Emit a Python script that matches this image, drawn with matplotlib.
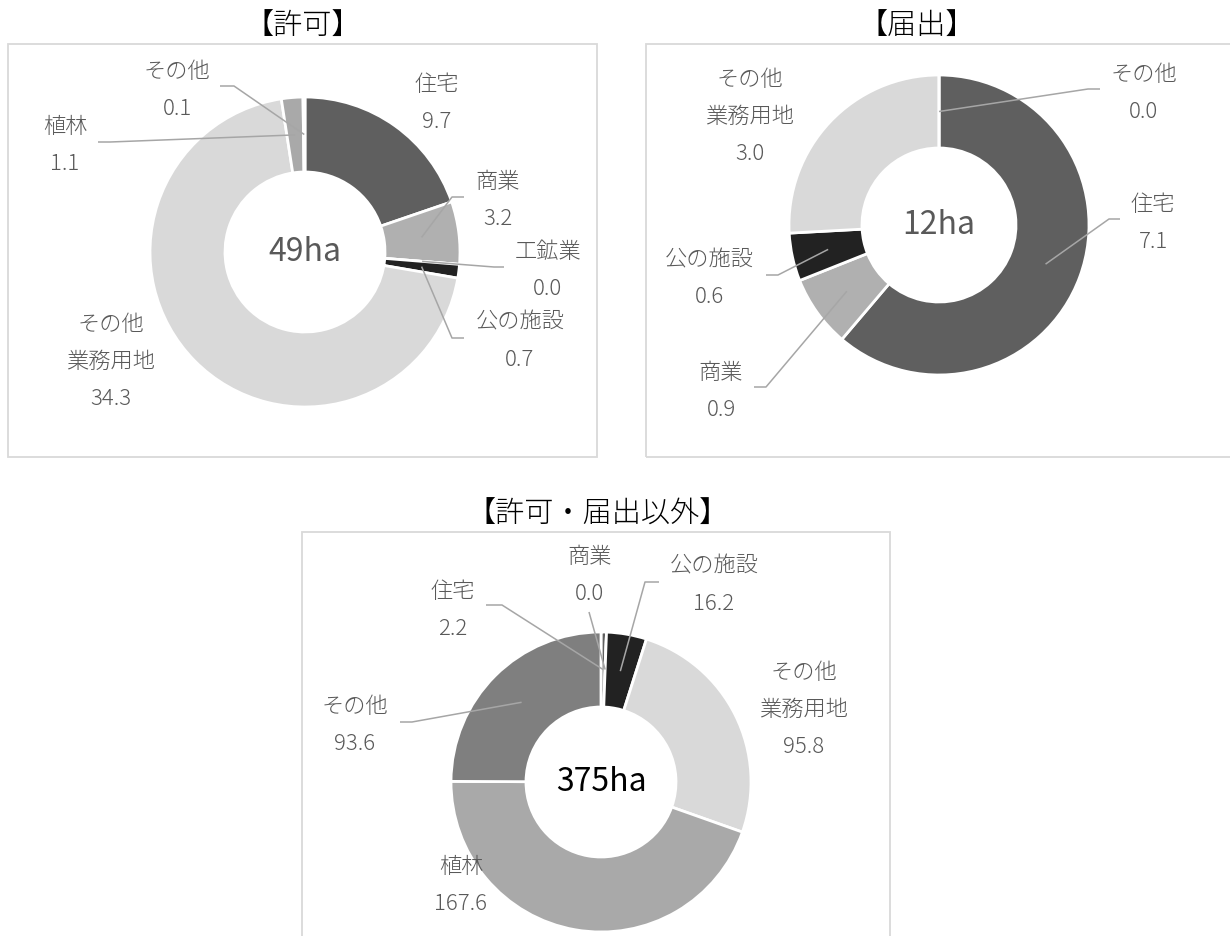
import matplotlib
matplotlib.use("Agg")
import matplotlib.pyplot as plt
import numpy as np
from matplotlib.patches import Rectangle

plt.rcParams["font.family"] = ["Noto Sans CJK JP", "DejaVu Sans"]

W, H = 1230, 936

# --- data (ha) ---
cats_kyoka = ["住宅", "商業", "工鉱業", "公の施設", "その他\n業務用地", "植林", "その他"]
vals_kyoka = [9.7, 3.2, 0.0, 0.7, 34.3, 1.1, 0.1]

cats_todokede = ["住宅", "商業", "公の施設", "その他\n業務用地", "その他"]
vals_todokede = [7.1, 0.9, 0.6, 3.0, 0.0]

cats_igai = ["住宅", "商業", "公の施設", "その他\n業務用地", "植林", "その他"]
vals_igai = [2.2, 0.0, 16.2, 95.8, 167.6, 93.6]

titles = ["【許可】", "【届出】", "【許可・届出以外】"]
totals = ["49ha", "12ha", "375ha"]

COLORS = {
    "住宅": "#5f5f5f",
    "商業": "#b0b0b0",
    "工鉱業": "#8c8c8c",
    "公の施設": "#222222",
    "その他\n業務用地": "#d9d9d9",
    "植林": "#a9a9a9",
    "その他": "#7f7f7f",
}
TXT = "#595959"
LEAD = "#a6a6a6"
LINE_GAP = 37  # px between label lines

# layout in pixel coords (y measured from top)
# label: first-line centre (x, y); leader: (end_x, end_y, stub_x) or None
charts = [
    dict(cats=cats_kyoka, vals=vals_kyoka, center=(305, 252), radius=155, width=75,
         box=(8, 44, 597, 457), title_xy=(303, 27), total_color=TXT,
         labels={
             "住宅": ((437, 85), None),
             "商業": ((498, 182), (464, 197, 452)),
             "工鉱業": ((548, 252), (504, 267, 494)),
             "公の施設": ((520, 323), (464, 338, 452)),
             "その他\n業務用地": ((111, 325), None),
             "植林": ((65, 127), (98, 142, 110)),
             "その他": ((177, 72), (220, 86, 234)),
         }),
    dict(cats=cats_todokede, vals=vals_todokede, center=(939, 225), radius=150, width=73,
         box=(646, 44, 1240, 457), title_xy=(917, 27), total_color=TXT,
         labels={
             "住宅": ((1153, 205), (1120, 219, 1109)),
             "商業": ((721, 373), (754, 387, 766)),
             "公の施設": ((709, 260), (766, 275, 778)),
             "その他\n業務用地": ((750, 80), None),
             "その他": ((1144, 75), (1100, 89, 1088)),
         }),
    dict(cats=cats_igai, vals=vals_igai, center=(601, 782), radius=150, width=75,
         box=(302, 532, 890, 960), title_xy=(598, 514), total_color="black",
         labels={
             "住宅": ((453, 592), (486, 605, 502)),
             "商業": ((590, 557), (589, 612, 589)),
             "公の施設": ((714, 567), (659, 582, 645)),
             "その他\n業務用地": ((804, 673), None),
             "植林": ((461, 867), None),
             "その他": ((355, 707), (400, 722, 412)),
         }),
]

fig = plt.figure(figsize=(W / 100, H / 100), dpi=100)
ax = fig.add_axes([0, 0, 1, 1])

for ch, title, total in zip(charts, titles, totals):
    cx, cy = ch["center"]
    R, w = ch["radius"], ch["width"]
    x0, y0, x1, y1 = ch["box"]
    ax.add_patch(Rectangle((x0, H - y1), x1 - x0, y1 - y0, fill=False,
                           edgecolor="#d9d9d9", lw=1.3, zorder=0))
    ax.pie(ch["vals"], colors=[COLORS[c] for c in ch["cats"]], startangle=90,
           counterclock=False, center=(cx, H - cy), radius=R,
           wedgeprops=dict(width=w, edgecolor="white", linewidth=2))
    ax.text(ch["title_xy"][0], H - ch["title_xy"][1], title, ha="center",
            va="center", fontsize=21, color="black", fontweight="light")
    ax.text(cx, H - cy, total, ha="center", va="center", fontsize=23,
            color=ch["total_color"])

    vals = np.array(ch["vals"], dtype=float)
    cum = np.concatenate([[0], np.cumsum(vals)])
    r_mid = R - w / 2
    for i, (cat, v) in enumerate(zip(ch["cats"], vals)):
        (lx, ly), lead = ch["labels"][cat]
        lines = cat.split("\n") + [f"{v:.1f}"]
        for k, s in enumerate(lines):
            ax.text(lx, H - (ly + k * LINE_GAP), s, ha="center", va="center",
                    fontsize=16, color=TXT, fontweight="light")
        if lead is not None:
            t = np.deg2rad(360 * (cum[i] + v / 2) / vals.sum())
            axx = cx + r_mid * np.sin(t)
            ayy = cy - r_mid * np.cos(t)
            ex, ey, sx = lead
            ax.plot([ex, sx, axx], [H - ey, H - ey, H - ayy], color=LEAD,
                    lw=1.1, zorder=5, solid_capstyle="butt")

ax.set_xlim(0, W)
ax.set_ylim(0, H)
ax.set_aspect("equal")
ax.axis("off")
fig.savefig("out.png", dpi=100, facecolor="white")
